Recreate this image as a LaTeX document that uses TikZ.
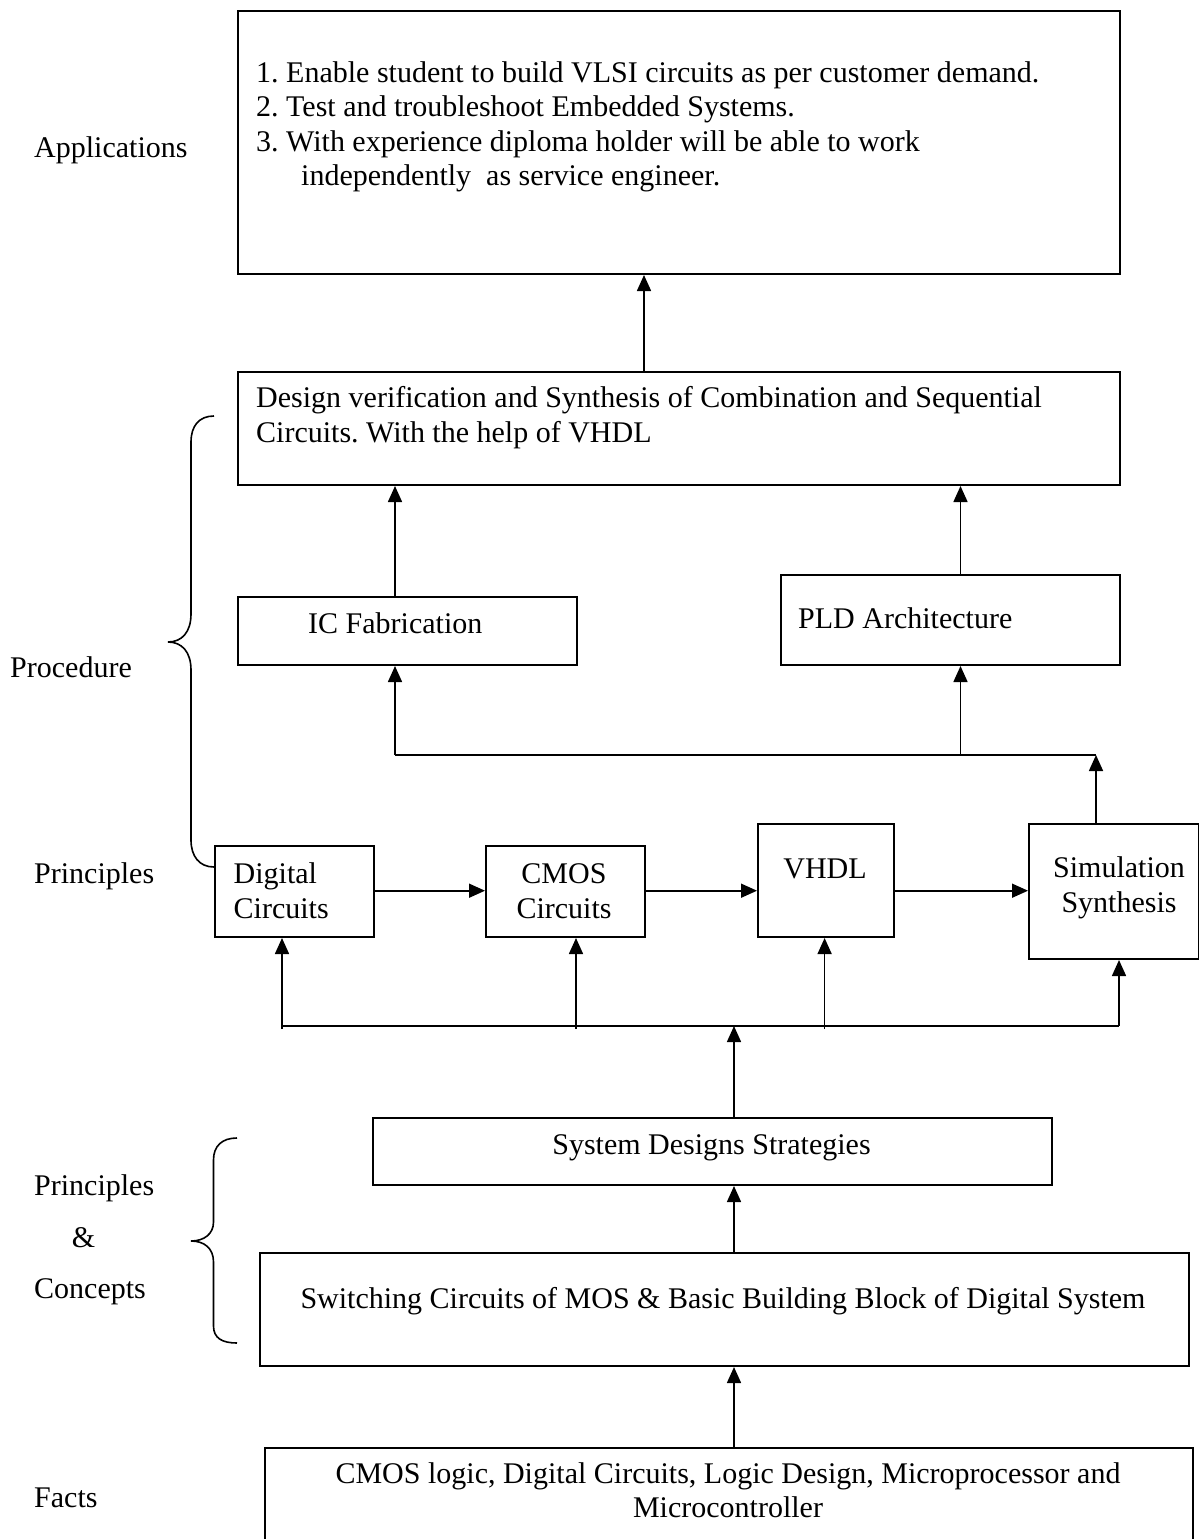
\documentclass[tikz,border=0pt]{standalone}
\usepackage{fontspec}
\setmainfont{Liberation Serif}
\usetikzlibrary{arrows.meta}
\frenchspacing
\begin{document}
\begin{tikzpicture}[x=1pt,y=-1pt,
  txt/.style={font=\fontsize{30}{34.5}\selectfont, inner sep=0pt, anchor=base west},
  ctxt/.style={font=\fontsize{30}{34.5}\selectfont, inner sep=0pt, anchor=base},
  box/.style={draw, line width=2pt, inner sep=0pt, anchor=north west},
  arr/.style={line width=1.6pt, -{Triangle[length=16pt,width=14pt]}},
  ln/.style={line width=1.6pt},
  brace/.style={line width=1.6pt}]
\useasboundingbox (0,0) rectangle (1199,1539);
\clip (0,0) rectangle (1199,1539);
% boxes
\node[box, minimum width=882pt, minimum height=263pt] (top) at (237,10) {};
\node[box, minimum width=882pt, minimum height=113pt] (design) at (237,371) {};
\node[box, minimum width=339pt, minimum height=68pt] (ic) at (237,596) {};
\node[box, minimum width=339.5pt, minimum height=90pt] (pld) at (779.5,574) {};
\node[box, minimum width=159pt, minimum height=91pt] (dig) at (213.5,845) {};
\node[box, minimum width=159pt, minimum height=91pt] (cmos) at (485,845) {};
\node[box, minimum width=136pt, minimum height=113pt] (vhdl) at (757,823) {};
\node[box, minimum width=170pt, minimum height=135pt] (sim) at (1028,823) {};
\node[box, minimum width=679pt, minimum height=67pt] (sds) at (372,1117) {};
\node[box, minimum width=929pt, minimum height=113pt] (sw) at (258.7,1252) {};
\node[box, minimum width=927.6pt, minimum height=120pt] (facts) at (264.4,1447) {};
% texts in boxes
\node[txt] (t1) at (256,82) {1. Enable student to build VLSI circuits as per customer demand.};
\node[txt] (t2) at (256,116.5) {2. Test and troubleshoot Embedded Systems.};
\node[txt] (t3) at (256,151) {3. With experience diploma holder will be able to work};
\node[txt] (t4) at (301,185.5) {independently\ \ as service engineer.};
\node[txt] (d1) at (256,407) {Design verification and Synthesis of Combination and Sequential};
\node[txt] (d2) at (256,442) {Circuits. With the help of VHDL};
\node[txt] (ict) at (308,633) {IC Fabrication};
\node[txt] (pldt) at (798,628) {PLD Architecture};
\node[txt] (dig1) at (233.5,883) {Digital};
\node[txt] (dig2) at (233.5,918) {Circuits};
\node[ctxt] (cm1) at (564,883) {CMOS};
\node[ctxt] (cm2) at (564,918) {Circuits};
\node[ctxt] (vh) at (825,878) {VHDL};
\node[ctxt] (si1) at (1119,877) {Simulation};
\node[ctxt] (si2) at (1119,912) {Synthesis};
\node[ctxt] (sdst) at (711.5,1154) {System Designs Strategies};
\node[ctxt] (swt) at (723,1308) {Switching Circuits of MOS \& Basic Building Block of Digital System};
\node[ctxt] (f1) at (728,1483) {CMOS logic, Digital Circuits, Logic Design, Microprocessor and};
\node[ctxt] (f2) at (728,1517) {Microcontroller};
% side labels
\node[txt] (lapp) at (34,157) {Applications};
\node[txt] (lproc) at (10,677) {Procedure};
\node[txt] (lprin) at (34,883) {Principles};
\node[txt] (lprin2) at (34,1195) {Principles};
\node[txt] (lamp) at (71.6,1247) {\&};
\node[txt] (lconc) at (34,1298) {Concepts};
\node[txt] (lfact) at (34,1507) {Facts};
% braces
\draw[brace] (214,416) .. controls (199,416) and (191,426) .. (191,442) -- (191,614)
  .. controls (191,632) and (182,642) .. (168,642)
  .. controls (182,642) and (191,652) .. (191,670) -- (191,840)
  .. controls (191,856) and (199,867) .. (214,867);
\draw[brace] (237,1138) .. controls (222,1138) and (213.5,1146) .. (213.5,1160) -- (213.5,1222)
  .. controls (213.5,1234) and (204,1241) .. (191,1241)
  .. controls (204,1241) and (213.5,1248) .. (213.5,1262) -- (213.5,1326)
  .. controls (213.5,1338) and (222,1343) .. (237,1343);
% connectors upper part
\draw[arr] (644,0 |- design.north) -- (644,0 |- top.south);
\draw[arr] (395,0 |- ic.north) -- (395,0 |- design.south);
\draw[arr] (960.5,0 |- pld.north) -- (960.5,0 |- design.south);
\coordinate (j1) at (1096,755);
\coordinate (j2) at (395,755);
\coordinate (j3) at (960.5,755);
\draw[arr] (1096,0 |- sim.north) -- (j1);
\draw[ln] (j2) -- (j1);
\draw[arr] (j2) -- (395,0 |- ic.south);
\draw[arr] (j3) -- (960.5,0 |- pld.south);
% principle row
\draw[arr] (dig.east |- 0,890.7) -- (cmos.west |- 0,890.7);
\draw[arr] (cmos.east |- 0,890.7) -- (vhdl.west |- 0,890.7);
\draw[arr] (vhdl.east |- 0,890.7) -- (sim.west |- 0,890.7);
% bus
\coordinate (b1) at (282,1026);
\coordinate (b2) at (1119,1026);
\draw[ln] (b1) -- (b2);
\draw[arr] (b2) -- (1119,0 |- sim.south);
\draw[arr] (282,1029) -- (282,0 |- dig.south);
\draw[arr] (576,1029) -- (576,0 |- cmos.south);
\draw[arr] (824.6,1029) -- (824.6,0 |- vhdl.south);
\coordinate (b3) at (734,1026);
\draw[arr] (734,0 |- sds.north) -- (b3);
\draw[arr] (734,0 |- sw.north) -- (734,0 |- sds.south);
\draw[arr] (734,0 |- facts.north) -- (734,0 |- sw.south);
\end{tikzpicture}
\end{document}
